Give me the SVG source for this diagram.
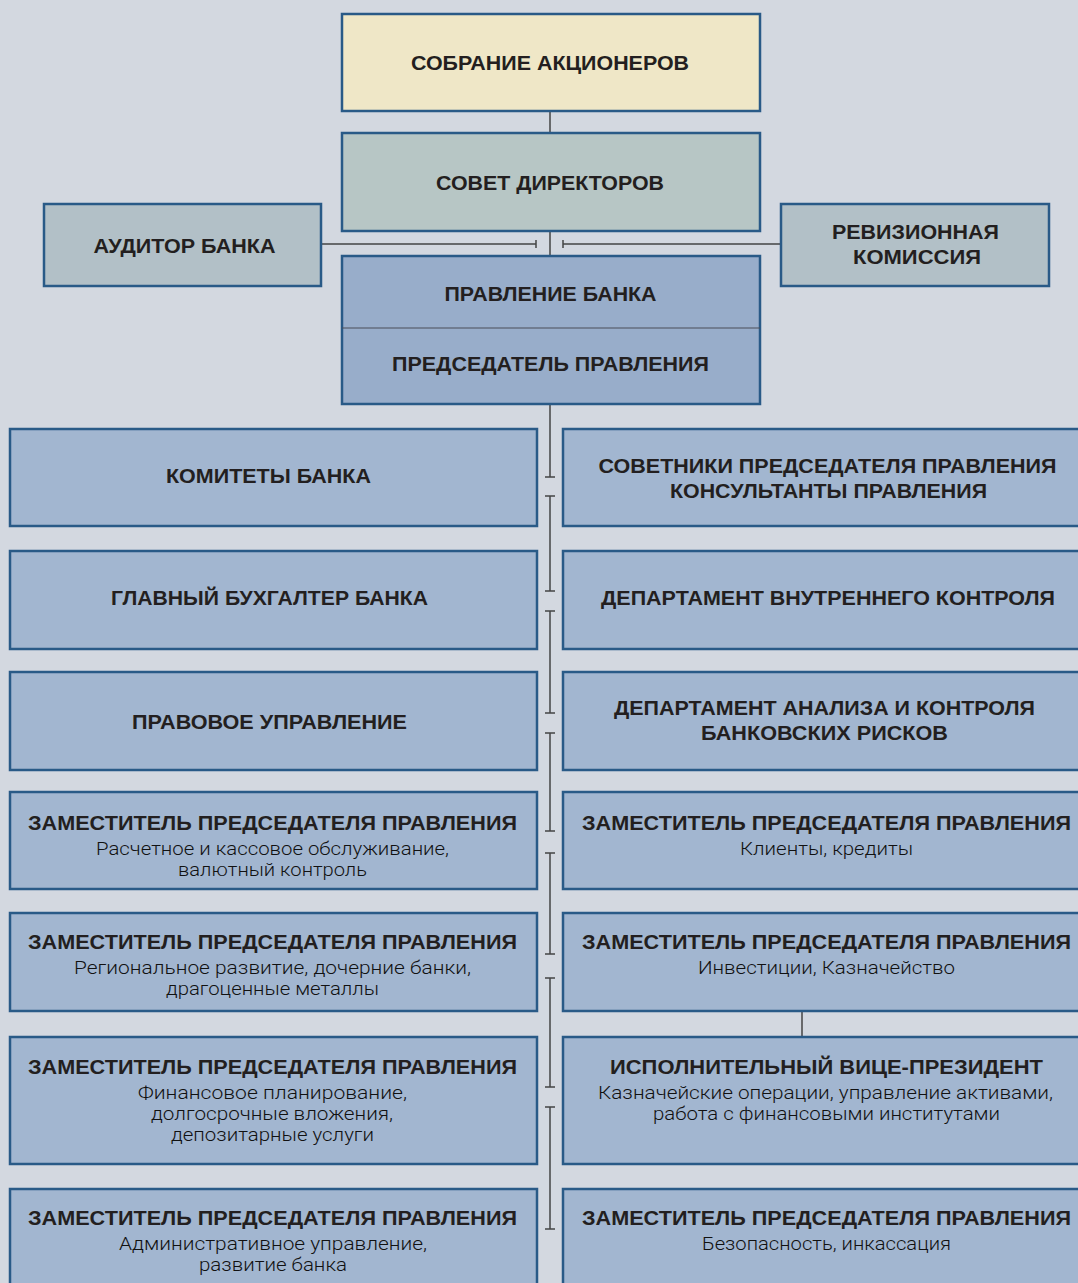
<svg xmlns="http://www.w3.org/2000/svg" width="1078" height="1283" viewBox="0 0 1078 1283">
<style>
.box{stroke:#295a87;stroke-width:2.5}
.y{fill:#efe7c7}
.g{fill:#b7c6c5}
.s{fill:#b2c0c7}
.p{fill:#98adca}
.b{fill:#a2b6d0}
.h{font-family:"Liberation Sans",Arial,sans-serif;font-weight:bold;font-size:21px;fill:#231f20}
.d{font-family:Roboto,"Liberation Sans",sans-serif;font-weight:300;font-size:17.5px;fill:#111}
.c{stroke:#444;stroke-width:1.5;fill:none}
</style>
<rect width="1078" height="1283" fill="#d3d8e0"/>
<g id="connectors">
<path class="c" d="M550 112V132M550 232V256M322 244H536M536 240V248M563 244H780M563 240V248"/>
<path class="c" d="M550 405V477M545 477H555"/>
<path class="c" d="M550 496V591M545 496H555M545 591H555"/>
<path class="c" d="M550 611V713M545 611H555M545 713H555"/>
<path class="c" d="M550 733V831M545 733H555M545 831H555"/>
<path class="c" d="M550 853V954M545 853H555M545 954H555"/>
<path class="c" d="M550 978V1087M545 978H555M545 1087H555"/>
<path class="c" d="M550 1107V1229M545 1107H555M545 1229H555"/>
<path class="c" d="M802 1012V1036"/>
</g>
<g id="sobranie"><rect class="box y" x="342" y="14" width="418" height="97"/>
<text class="h" x="411" y="70" textLength="278" lengthAdjust="spacingAndGlyphs">СОБРАНИЕ АКЦИОНЕРОВ</text></g>
<g id="sovet"><rect class="box g" x="342" y="133" width="418" height="98"/>
<text class="h" x="436" y="189.5" textLength="228" lengthAdjust="spacingAndGlyphs">СОВЕТ ДИРЕКТОРОВ</text></g>
<g id="auditor"><rect class="box s" x="44" y="204" width="277" height="82"/>
<text class="h" x="93.5" y="253" textLength="182" lengthAdjust="spacingAndGlyphs">АУДИТОР БАНКА</text></g>
<g id="revision"><rect class="box s" x="781" y="204" width="268" height="82"/>
<text class="h"><tspan x="832" y="239" textLength="167" lengthAdjust="spacingAndGlyphs">РЕВИЗИОННАЯ</tspan><tspan x="853" y="264" textLength="128" lengthAdjust="spacingAndGlyphs">КОМИССИЯ</tspan></text></g>
<g id="pravlenie"><rect class="box p" x="342" y="256" width="418" height="148"/>
<line x1="342" y1="328" x2="760" y2="328" stroke="#4a4f58" stroke-width="1.2"/>
<text class="h" x="444.5" y="300.5" textLength="212" lengthAdjust="spacingAndGlyphs">ПРАВЛЕНИЕ БАНКА</text>
<text class="h" x="392" y="371" textLength="317" lengthAdjust="spacingAndGlyphs">ПРЕДСЕДАТЕЛЬ ПРАВЛЕНИЯ</text></g>

<g id="komitety"><rect class="box b" x="10" y="429" width="527" height="97"/>
<text class="h" x="166" y="482.5" textLength="205" lengthAdjust="spacingAndGlyphs">КОМИТЕТЫ БАНКА</text></g>
<g id="sovetniki"><rect class="box b" x="563" y="429" width="530" height="97"/>
<text class="h"><tspan x="598.5" y="472.5" textLength="458" lengthAdjust="spacingAndGlyphs">СОВЕТНИКИ ПРЕДСЕДАТЕЛЯ ПРАВЛЕНИЯ</tspan><tspan x="670" y="497.5" textLength="317" lengthAdjust="spacingAndGlyphs">КОНСУЛЬТАНТЫ ПРАВЛЕНИЯ</tspan></text></g>

<g id="buhgalter"><rect class="box b" x="10" y="551" width="527" height="98"/>
<text class="h" x="111" y="604.5" textLength="317" lengthAdjust="spacingAndGlyphs">ГЛАВНЫЙ БУХГАЛТЕР БАНКА</text></g>
<g id="vnutr"><rect class="box b" x="563" y="551" width="530" height="98"/>
<text class="h" x="601" y="604.5" textLength="454" lengthAdjust="spacingAndGlyphs">ДЕПАРТАМЕНТ ВНУТРЕННЕГО КОНТРОЛЯ</text></g>

<g id="pravovoe"><rect class="box b" x="10" y="672" width="527" height="98"/>
<text class="h" x="132" y="728.5" textLength="275" lengthAdjust="spacingAndGlyphs">ПРАВОВОЕ УПРАВЛЕНИЕ</text></g>
<g id="riski"><rect class="box b" x="563" y="672" width="530" height="98"/>
<text class="h"><tspan x="614" y="714.5" textLength="421" lengthAdjust="spacingAndGlyphs">ДЕПАРТАМЕНТ АНАЛИЗА И КОНТРОЛЯ</tspan><tspan x="701" y="739.5" textLength="247" lengthAdjust="spacingAndGlyphs">БАНКОВСКИХ РИСКОВ</tspan></text></g>

<g id="zam1"><rect class="box b" x="10" y="792" width="527" height="97"/>
<text><tspan class="h" x="28" y="830" textLength="489" lengthAdjust="spacingAndGlyphs">ЗАМЕСТИТЕЛЬ ПРЕДСЕДАТЕЛЯ ПРАВЛЕНИЯ</tspan><tspan class="d" x="96" y="855" textLength="353" lengthAdjust="spacingAndGlyphs">Расчетное и кассовое обслуживание,</tspan><tspan class="d" x="178" y="876" textLength="189" lengthAdjust="spacingAndGlyphs">валютный контроль</tspan></text></g>
<g id="zam2"><rect class="box b" x="563" y="792" width="530" height="97"/>
<text><tspan class="h" x="582" y="830" textLength="489" lengthAdjust="spacingAndGlyphs">ЗАМЕСТИТЕЛЬ ПРЕДСЕДАТЕЛЯ ПРАВЛЕНИЯ</tspan><tspan class="d" x="740" y="855" textLength="173" lengthAdjust="spacingAndGlyphs">Клиенты, кредиты</tspan></text></g>

<g id="zam3"><rect class="box b" x="10" y="913" width="527" height="98"/>
<text><tspan class="h" x="28" y="949" textLength="489" lengthAdjust="spacingAndGlyphs">ЗАМЕСТИТЕЛЬ ПРЕДСЕДАТЕЛЯ ПРАВЛЕНИЯ</tspan><tspan class="d" x="74" y="974" textLength="397" lengthAdjust="spacingAndGlyphs">Региональное развитие, дочерние банки,</tspan><tspan class="d" x="166" y="995" textLength="213" lengthAdjust="spacingAndGlyphs">драгоценные металлы</tspan></text></g>
<g id="zam4"><rect class="box b" x="563" y="913" width="530" height="98"/>
<text><tspan class="h" x="582" y="949" textLength="489" lengthAdjust="spacingAndGlyphs">ЗАМЕСТИТЕЛЬ ПРЕДСЕДАТЕЛЯ ПРАВЛЕНИЯ</tspan><tspan class="d" x="698" y="974" textLength="257" lengthAdjust="spacingAndGlyphs">Инвестиции, Казначейство</tspan></text></g>

<g id="zam5"><rect class="box b" x="10" y="1037" width="527" height="127"/>
<text><tspan class="h" x="28" y="1074" textLength="489" lengthAdjust="spacingAndGlyphs">ЗАМЕСТИТЕЛЬ ПРЕДСЕДАТЕЛЯ ПРАВЛЕНИЯ</tspan><tspan class="d" x="138" y="1099" textLength="269" lengthAdjust="spacingAndGlyphs">Финансовое планирование,</tspan><tspan class="d" x="151" y="1120" textLength="242" lengthAdjust="spacingAndGlyphs">долгосрочные вложения,</tspan><tspan class="d" x="171" y="1141" textLength="203" lengthAdjust="spacingAndGlyphs">депозитарные услуги</tspan></text></g>
<g id="vicepres"><rect class="box b" x="563" y="1037" width="530" height="127"/>
<text><tspan class="h" x="610" y="1074" textLength="433" lengthAdjust="spacingAndGlyphs">ИСПОЛНИТЕЛЬНЫЙ ВИЦЕ-ПРЕЗИДЕНТ</tspan><tspan class="d" x="598" y="1099" textLength="455" lengthAdjust="spacingAndGlyphs">Казначейские операции, управление активами,</tspan><tspan class="d" x="653" y="1120" textLength="347" lengthAdjust="spacingAndGlyphs">работа с финансовыми институтами</tspan></text></g>

<g id="zam6"><rect class="box b" x="10" y="1189" width="527" height="120"/>
<text><tspan class="h" x="28" y="1225" textLength="489" lengthAdjust="spacingAndGlyphs">ЗАМЕСТИТЕЛЬ ПРЕДСЕДАТЕЛЯ ПРАВЛЕНИЯ</tspan><tspan class="d" x="119" y="1250" textLength="308" lengthAdjust="spacingAndGlyphs">Административное управление,</tspan><tspan class="d" x="199" y="1271" textLength="148" lengthAdjust="spacingAndGlyphs">развитие банка</tspan></text></g>
<g id="zam7"><rect class="box b" x="563" y="1189" width="530" height="120"/>
<text><tspan class="h" x="582" y="1225" textLength="489" lengthAdjust="spacingAndGlyphs">ЗАМЕСТИТЕЛЬ ПРЕДСЕДАТЕЛЯ ПРАВЛЕНИЯ</tspan><tspan class="d" x="702" y="1250" textLength="249" lengthAdjust="spacingAndGlyphs">Безопасность, инкассация</tspan></text></g>
</svg>
